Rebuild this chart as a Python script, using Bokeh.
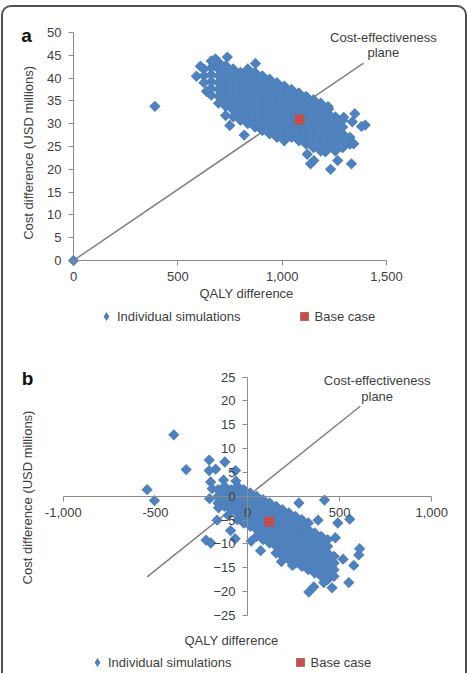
import math
from bokeh.plotting import figure
from bokeh.models import (Legend, LegendItem, Label, FixedTicker,
                          NumeralTickFormatter, Range1d)
from bokeh.layouts import column
from bokeh.embed import file_html
from bokeh.resources import INLINE

BLUE = "#4F81BD"
RED = "#C0504D"
AXIS = "#8c8c8c"
TXT = "#404040"
FONT = "Liberation Sans"

# ---------------- Panel a data ----------------
x_ticks_a = [0, 500, 1000, 1500]
y_ticks_a = [0, 5, 10, 15, 20, 25, 30, 35, 40, 45, 50]

blob_a_x = [625, 660, 695, 730, 765, 800, 835, 870, 905, 940, 975,
            1010, 1045, 1080, 1115, 1150, 1185, 1220, 1255, 1290, 1325]
blob_a_y = [
    [42.0, 40.5, 39.0],
    [43.75, 42.25, 40.75, 39.25, 37.75, 36.25],
    [43.5, 42.0, 40.5, 39.0, 37.5, 36.0, 34.5],
    [42.75, 41.25, 39.75, 38.25, 36.75, 35.25, 33.75],
    [42.0, 40.5, 39.0, 37.5, 36.0, 34.5, 33.0, 31.5],
    [41.25, 39.75, 38.25, 36.75, 35.25, 33.75, 32.25, 30.75],
    [42.0, 40.5, 39.0, 37.5, 36.0, 34.5, 33.0, 31.5, 30.0],
    [41.25, 39.75, 38.25, 36.75, 35.25, 33.75, 32.25, 30.75, 29.25],
    [40.5, 39.0, 37.5, 36.0, 34.5, 33.0, 31.5, 30.0, 28.5],
    [39.75, 38.25, 36.75, 35.25, 33.75, 32.25, 30.75, 29.25, 27.75],
    [39.0, 37.5, 36.0, 34.5, 33.0, 31.5, 30.0, 28.5, 27.0],
    [38.25, 36.75, 35.25, 33.75, 32.25, 30.75, 29.25, 27.75, 26.25],
    [37.5, 36.0, 34.5, 33.0, 31.5, 30.0, 28.5, 27.0],
    [36.75, 35.25, 33.75, 32.25, 30.75, 29.25, 27.75, 26.25],
    [36.0, 34.5, 33.0, 31.5, 30.0, 28.5, 27.0, 25.5],
    [35.25, 33.75, 32.25, 30.75, 29.25, 27.75, 26.25, 24.75],
    [34.5, 33.0, 31.5, 30.0, 28.5, 27.0, 25.5, 24.0],
    [33.75, 32.25, 30.75, 29.25, 27.75, 26.25, 24.75],
    [31.5, 30.0, 28.5, 27.0, 25.5, 24.0],
    [30.75, 29.25, 27.75, 26.25, 24.75],
    [27.0, 25.5],
]
out_a_x = [0, 390, 589, 608, 637, 672, 680, 737, 729, 749, 818, 833, 872,
           1120, 1136, 1152, 1207, 1223, 1232, 1266, 1295, 1332, 1336, 1343,
           1348, 1380, 1398]
out_a_y = [0, 33.8, 40.4, 42.6, 37.1, 42.8, 44.2, 44.6, 31.8, 29.6, 27.5, 41.7,
           43.2, 23.3, 21.2, 21.9, 23.8, 33.2, 20.0, 21.9, 31.4, 21.2, 30.4,
           25.6, 32.2, 29.4, 29.7]
base_a_x = [1083]
base_a_y = [30.9]
ce_a_x = [0, 1390]
ce_a_y = [0, 43.3]

# ---------------- Panel b data ----------------
x_ticks_b = [-1000, -500, 0, 500, 1000]
y_ticks_b = [-25, -20, -15, -10, -5, 0, 5, 10, 15, 20, 25]

blob_b_x = [-160, -125, -90, -55, -20, 15, 50, 85, 120, 155, 190, 225, 260,
            295, 330, 365, 400, 435, 470]
blob_b_y = [
    [1.4, 0.0, -1.4],
    [2.1, 0.7, -0.7, -2.1],
    [1.4, 0.0, -1.4, -2.8],
    [2.1, 0.7, -0.7, -2.1, -3.5, -4.9],
    [1.4, 0.0, -1.4, -2.8, -4.2, -5.6],
    [0.7, -0.7, -2.1, -3.5, -4.9, -6.3],
    [0.0, -1.4, -2.8, -4.2, -5.6, -7.0, -8.4],
    [-0.7, -2.1, -3.5, -4.9, -6.3, -7.7, -9.1],
    [-1.4, -2.8, -4.2, -5.6, -7.0, -8.4, -9.8],
    [-2.1, -3.5, -4.9, -6.3, -7.7, -9.1, -10.5, -11.9],
    [-2.8, -4.2, -5.6, -7.0, -8.4, -9.8, -11.2, -12.6],
    [-3.5, -4.9, -6.3, -7.7, -9.1, -10.5, -11.9, -13.3],
    [-4.2, -5.6, -7.0, -8.4, -9.8, -11.2, -12.6, -14.0],
    [-4.9, -6.3, -7.7, -9.1, -10.5, -11.9, -13.3, -14.7],
    [-5.6, -7.0, -8.4, -9.8, -11.2, -12.6, -14.0, -15.4],
    [-7.7, -9.1, -10.5, -11.9, -13.3, -14.7, -16.1],
    [-8.4, -9.8, -11.2, -12.6, -14.0, -15.4, -16.8],
    [-9.1, -10.5, -11.9, -13.3, -14.7, -16.1, -17.5],
    [-12.6, -14.0, -15.4, -16.8],
]
out_b_x = [-400, -333, -545, -505, -208, -123, -208, -173, -65, -63,
           -200, -192, -130, -206, -165, -225, -199, -92, -67, 20,
           71, 279, 418, 383, 490, 555, 477, 519, 577, 609,
           604, 550, 333, 360, 459, 414, 244, 184, 448, 448,
           -150, -157, -105]
out_b_y = [12.9, 5.6, 1.4, -0.9, 7.6, 7.2, 5.4, 5.7, 5.4, 3.2,
           3.0, 1.6, 3.4, -0.5, -5.0, -9.2, -9.8, -7.2, -8.9, -9.4,
           -11.4, -1.4, -0.8, -5.0, -5.6, -4.8, -8.7, -13.2, -14.5, -11.0,
           -12.3, -18.1, -20.1, -19.0, -19.2, -18.1, -14.5, -13.7, -12.9, -16.4,
           -0.9, -2.4, -4.0]
base_b_x = [118]
base_b_y = [-5.3]
ce_b_x = [-545, 612]
ce_b_y = [-16.9, 18.9]


def flatten(cols_x, cols_y, ox, oy):
    xs, ys = [], []
    for cx, col in zip(cols_x, cols_y):
        for cy in col:
            xs.append(cx)
            ys.append(cy)
    return xs + list(ox), ys + list(oy)


def style_axis(ax):
    ax.axis_line_color = AXIS
    ax.axis_line_width = 1
    ax.major_tick_line_color = AXIS
    ax.major_tick_out = 5
    ax.major_tick_in = 0
    ax.minor_tick_line_color = None
    ax.major_label_text_font = FONT
    ax.major_label_text_font_size = "13px"
    ax.major_label_text_color = TXT
    ax.major_label_standoff = 7


def make_legend(p, sx, sy, bx, by, loc, spacing):
    # hidden twins of the series, used only to draw the legend swatches
    k_sim = p.scatter(sx, sy, marker="diamond", fill_color=BLUE, line_color=None,
                      visible=False)
    k_base = p.scatter(bx, by, marker="square", fill_color=RED, line_color=None,
                       visible=False)
    leg = Legend(items=[LegendItem(label="Individual simulations", renderers=[k_sim]),
                        LegendItem(label="Base case", renderers=[k_base])],
                 orientation="horizontal", location=loc, spacing=spacing,
                 glyph_width=22, glyph_height=22, label_height=16, label_standoff=0,
                 padding=0, margin=0, border_line_color=None,
                 background_fill_alpha=0,
                 label_text_font=FONT, label_text_font_size="13px",
                 label_text_color=TXT)
    p.add_layout(leg)


def txt(p, x, y, s, size="13px", style="normal", color=TXT, align="center",
        base="middle", angle=0.0):
    p.add_layout(Label(x=x, y=y, text=s, text_font=FONT, text_font_size=size,
                       text_font_style=style, text_color=color, angle=angle,
                       text_align=align, text_baseline=base))


def base_fig(w, h, xr, yr):
    p = figure(width=w, height=h, x_range=Range1d(*xr), y_range=Range1d(*yr),
               output_backend="svg", toolbar_location=None,
               min_border=0, min_border_left=0, min_border_right=0,
               min_border_top=0, min_border_bottom=0)
    p.grid.visible = False
    p.outline_line_color = None
    p.background_fill_color = None
    p.border_fill_color = None
    style_axis(p.xaxis[0])
    style_axis(p.yaxis[0])
    p.xaxis.fixed_location = 0
    p.yaxis.fixed_location = 0
    p.xaxis.formatter = NumeralTickFormatter(format="0,0")
    return p


# ---------------- Panel a ----------------
pa = base_fig(462, 328, (-335.5, 1878.6), (-16.45, 55.48))
pa.xaxis.ticker = FixedTicker(ticks=x_ticks_a)
pa.yaxis.ticker = FixedTicker(ticks=y_ticks_a)
pa.xaxis.bounds = (x_ticks_a[0], x_ticks_a[-1])
pa.yaxis.bounds = (y_ticks_a[0], y_ticks_a[-1])

pa.line(ce_a_x, ce_a_y, line_color="#808080", line_width=1.5)
sa_x, sa_y = flatten(blob_a_x, blob_a_y, out_a_x, out_a_y)
pa.scatter(sa_x, sa_y, marker="square", size=8, angle=math.pi / 4,
           fill_color=BLUE, line_color=None)
pa.scatter(base_a_x, base_a_y, marker="square", size=10,
           fill_color=RED, line_color=None)
make_legend(pa, sa_x, sa_y, base_a_x, base_a_y, (92, 8), 52)
txt(pa, 1485, 48.9, "Cost-effectiveness")
txt(pa, 1485, 45.6, "plane")
txt(pa, 829, -7.24, "QALY difference")
txt(pa, -215.6, 23.6, "Cost difference (USD millions)", angle=math.pi / 2)
txt(pa, -225, 49.3, "a", size="19px", style="bold", color="#111111", base="alphabetic")

# ---------------- Panel b ----------------
pb = base_fig(462, 338, (-1324.6, 1183.5), (-37.18, 33.74))
pb.xaxis.ticker = FixedTicker(ticks=x_ticks_b)
pb.yaxis.ticker = FixedTicker(ticks=y_ticks_b)
pb.xaxis.bounds = (x_ticks_b[0], x_ticks_b[-1])
pb.yaxis.bounds = (y_ticks_b[0], y_ticks_b[-1])

pb.line(ce_b_x, ce_b_y, line_color="#808080", line_width=1.5)
sb_x, sb_y = flatten(blob_b_x, blob_b_y, out_b_x, out_b_y)
pb.scatter(sb_x, sb_y, marker="square", size=8, angle=math.pi / 4,
           fill_color=BLUE, line_color=None)
pb.scatter(base_b_x, base_b_y, marker="square", size=10,
           fill_color=RED, line_color=None)
make_legend(pb, sb_x, sb_y, base_b_x, base_b_y, (83, 0), 57)
txt(pb, 704, 24.3, "Cost-effectiveness")
txt(pb, 704, 21.0, "plane")
txt(pb, -86.9, -30.26, "QALY difference")
txt(pb, -1194, -0.25, "Cost difference (USD millions)", angle=math.pi / 2)
txt(pb, -1194, 24.7, "b", size="19px", style="bold", color="#111111", base="alphabetic")

layout = column(pa, pb, spacing=0,
                styles={"border": "2px solid #505050", "border-bottom": "none",
                        "border-radius": "10px 10px 0 0", "margin-top": "5px",
                        "margin-left": "1px"})

open("out.html", "w").write(file_html(layout, INLINE))
